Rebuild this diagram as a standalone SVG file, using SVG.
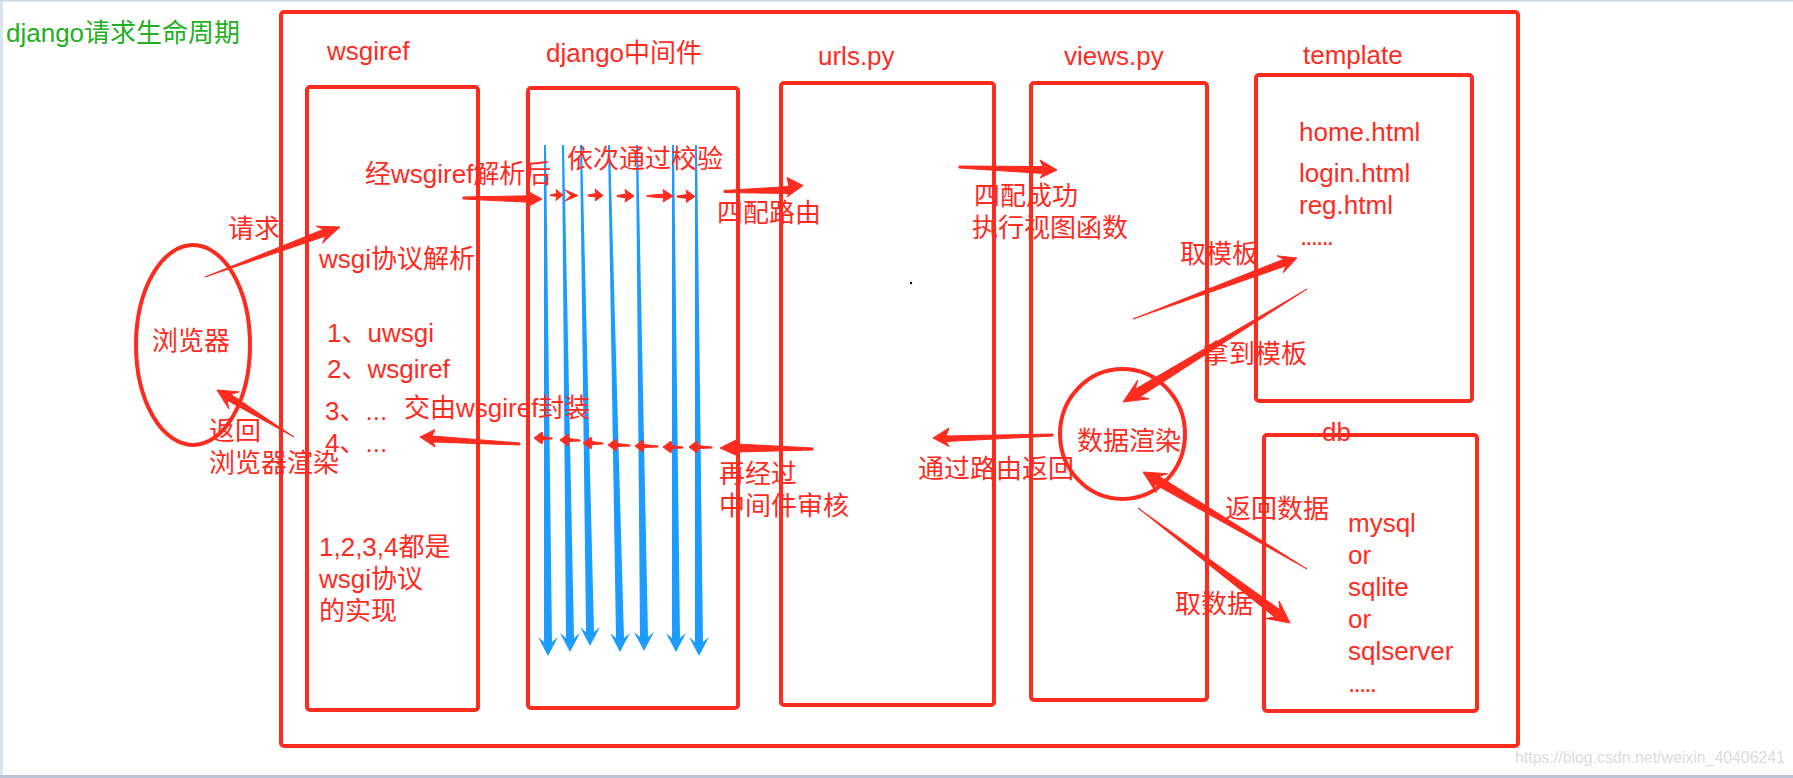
<svg xmlns="http://www.w3.org/2000/svg" width="1793" height="778" viewBox="0 0 1793 778">
<style>
.bx{fill:none;stroke:#fe2b1f;stroke-width:4;stroke-linejoin:round}
.t{font-family:"Liberation Sans","Noto Sans CJK SC",sans-serif;font-size:26px;fill:#fe2b1f}
.g{fill:#22b022}
.ra{fill:#fe2b1f;stroke:#fe2b1f;stroke-width:1;stroke-linejoin:round}
.ba{fill:#1c9cff}
.wm{font-family:"Liberation Sans",sans-serif;font-size:16px;fill:#dcdcdc}
</style>
<rect x="0" y="0" width="1793" height="778" fill="#ffffff"/>
<rect x="0" y="0" width="3" height="778" fill="#dbe3ef"/>
<rect x="0" y="0" width="1793" height="1.5" fill="#ccd4e0"/>
<rect x="0" y="775" width="1793" height="3" fill="#b8c3d3"/>

<text class="t g" x="6" y="42">django请求生命周期</text>

<g id="frame"><rect class="bx" x="281" y="12" width="1237" height="734" rx="3"/></g>

<g id="browser">
<ellipse class="bx" cx="193" cy="345" rx="57" ry="100"/>
<text class="t" x="152" y="350">浏览器</text>
</g>

<g id="wsgiref">
<text class="t" x="327" y="60">wsgiref</text>
<rect class="bx" x="307" y="87" width="171" height="623" rx="3"/>
<text class="t" x="319" y="268">wsgi协议解析</text>
<text class="t" x="327" y="342">1、uwsgi</text>
<text class="t" x="327" y="378">2、wsgiref</text>
<text class="t" x="325" y="420">3、...</text>
<text class="t" x="325" y="452">4、...</text>
<text class="t" x="319" y="556">1,2,3,4都是</text>
<text class="t" x="319" y="588">wsgi协议</text>
<text class="t" x="319" y="620">的实现</text>
</g>

<g id="middleware">
<text class="t" x="546" y="62">django中间件</text>
<rect class="bx" x="528" y="88" width="210" height="620" rx="3"/>
</g>

<g id="urls">
<text class="t" x="818" y="65">urls.py</text>
<rect class="bx" x="781" y="83" width="213" height="622" rx="3"/>
<circle cx="911" cy="283" r="1.2" fill="#000"/>
</g>

<g id="views">
<text class="t" x="1064" y="65">views.py</text>
<rect class="bx" x="1031" y="83" width="176" height="617" rx="3"/>
</g>

<g id="template">
<text class="t" x="1303" y="64">template</text>
<rect class="bx" x="1256" y="75" width="216" height="326" rx="3"/>
<text class="t" x="1299" y="141">home.html</text>
<text class="t" x="1299" y="182">login.html</text>
<text class="t" x="1299" y="214">reg.html</text>
<text class="t" x="1300" y="245" textLength="34" lengthAdjust="spacing">......</text>
</g>

<g id="db">
<rect class="bx" x="1264" y="435" width="213" height="276" rx="3"/>
<text class="t" x="1322" y="441">db</text>
<text class="t" x="1348" y="532">mysql</text>
<text class="t" x="1348" y="564">or</text>
<text class="t" x="1348" y="596">sqlite</text>
<text class="t" x="1348" y="628">or</text>
<text class="t" x="1348" y="660">sqlserver</text>
<text class="t" x="1348" y="692" textLength="29" lengthAdjust="spacing">.....</text>
</g>

<g id="render">
<ellipse class="bx" cx="1122.5" cy="434" rx="62.5" ry="65"/>
<text class="t" x="1077" y="450">数据渲染</text>
</g>

<g id="connectors">
<!-- blue middleware arrows -->
<path class="ba" d="M548,656 L558,637 L552,642 L546,145 L544,145 L544,642 L538,637 Z"/>
<path class="ba" d="M570,652 L580,633 L574,638 L564,145 L562,145 L566,638 L560,633 Z"/>
<path class="ba" d="M590,646 L600,627 L594,632 L582,145 L580,145 L586,632 L580,627 Z"/>
<path class="ba" d="M620,652 L630,633 L624,638 L610,145 L608,145 L616,638 L610,633 Z"/>
<path class="ba" d="M644,651 L654,632 L648,637 L638,145 L636,145 L640,637 L634,632 Z"/>
<path class="ba" d="M676,652 L686,633 L680,638 L674,145 L672,145 L672,638 L666,633 Z"/>
<path class="ba" d="M699,656 L709,637 L703,642 L697,145 L695,145 L695,642 L689,637 Z"/>

<!-- request -->
<path class="ra" d="M205,277 L325.75,236 L322.5,243.1 L340,227 L316.2,226.2 L323.3,229.45 Z"/>
<!-- after wsgiref parse -->
<path class="ra" d="M463,197 L530,195.8 L527,191 L542,199 L527,207 L530,202.3 L463,199 Z"/>
<!-- small right arrows -->
<path class="ra" d="M550,195 L557,193.5 L556,189.5 L563,195 L556,200.5 L557,196.5 L550,195.5 Z"/>
<path class="ra" d="M565,190 L578,195.5 L565,201 L571,195.5 Z"/>
<path class="ra" d="M588,195 L596,193.5 L595,189 L603,195.5 L595,201 L596,197 L588,196 Z"/>
<path class="ra" d="M617,195.5 L626,194 L625,189.5 L634,196 L625,202 L626,198 L617,196.5 Z"/>
<path class="ra" d="M647,195.5 L664,194 L663,189.5 L673,196 L663,202 L664,198 L647,196.5 Z"/>
<path class="ra" d="M677,196 L687,194.5 L686,190 L695,196.5 L686,202.5 L687,198.5 L677,197 Z"/>
<!-- to urls -->
<path class="ra" d="M724,190.5 L789,186.5 L787,177.5 L803,185.5 L787,197 L789,193.5 L724,192.5 Z"/>
<!-- to views -->
<path class="ra" d="M959,166 L1043,166.5 L1040,160 L1057,170 L1040,178 L1043,173.5 L959,168 Z"/>
<!-- get template -->
<path class="ra" d="M1133,319 L1286.04,265.81 L1283.27,272.71 L1297,258 L1276.99,255.83 L1283.6,259.25 Z"/>
<!-- got template -->
<path class="ra" d="M1307,289 L1135.14,389.27 L1137.69,380.07 L1123,402 L1149.21,398.81 L1139.84,396.93 Z"/>
<!-- back through urls -->
<path class="ra" d="M1053,434 L946,436 L949,428 L933,438 L949,446.5 L946,441.5 L1053,436 Z"/>
<!-- return data -->
<path class="ra" d="M1307,569 L1159.06,476.28 L1167.54,473.73 L1143,472 L1156.34,492.67 L1154.48,484.02 Z"/>
<!-- fetch data -->
<path class="ra" d="M1138,508 L1274.52,616.94 L1265.81,618.5 L1290,623 L1279.09,600.96 L1279.96,609.76 Z"/>
<!-- middleware review back -->
<path class="ra" d="M813,448 L737,444 L740,438 L720,448 L740,457 L737,452 L813,450 Z"/>
<!-- small left arrows -->
<path class="ra" d="M552,438 L543,436.5 L542,432 L534,438 L542,444 L543,439.5 L552,439 Z"/>
<path class="ra" d="M580,440 L569,438.5 L568,434 L560,440 L568,446 L569,441.5 L580,441 Z"/>
<path class="ra" d="M603,443 L592,441.5 L591,437 L583,443 L591,449 L592,444.5 L603,444 Z"/>
<path class="ra" d="M630,445 L617,443.5 L616,439 L608,445 L616,451 L617,446.5 L630,446 Z"/>
<path class="ra" d="M658,446 L644,444.5 L643,440 L635,446 L643,452 L644,447.5 L658,447 Z"/>
<path class="ra" d="M683,447 L672,445.5 L671,441 L663,447 L671,453 L672,448.5 L683,448 Z"/>
<path class="ra" d="M712,447 L698,445.5 L697,441 L689,447 L697,453 L698,448.5 L712,448 Z"/>
<!-- wsgiref wrap -->
<path class="ra" d="M520,443 L432,436 L435,429.5 L420,437 L435,447 L433,442 L520,445 Z"/>
<!-- return to browser -->
<path class="ra" d="M294,437 L230.77,394.3 L239.28,391.88 L217,390 L228.86,408.96 L227.13,400.28 Z"/>
</g>

<g id="labels">
<text class="t" x="228" y="238">请求</text>
<text class="t" x="365" y="183">经wsgiref解析后</text>
<text class="t" x="567" y="168">依次通过校验</text>
<text class="t" x="717" y="222">四配路由</text>
<text class="t" x="974" y="205">四配成功</text>
<text class="t" x="972" y="237">执行视图函数</text>
<text class="t" x="1180" y="263">取模板</text>
<text class="t" x="1203" y="363">拿到模板</text>
<text class="t" x="918" y="478">通过路由返回</text>
<text class="t" x="1225" y="518">返回数据</text>
<text class="t" x="1175" y="613">取数据</text>
<text class="t" x="719" y="483">再经过</text>
<text class="t" x="719" y="515">中间件审核</text>
<text class="t" x="404" y="417">交由wsgiref封装</text>
<text class="t" x="209" y="440">返回</text>
<text class="t" x="209" y="472">浏览器渲染</text>
</g>

<text class="wm" x="1515" y="763" textLength="270" lengthAdjust="spacingAndGlyphs">https://blog.csdn.net/weixin_40406241</text>
</svg>
